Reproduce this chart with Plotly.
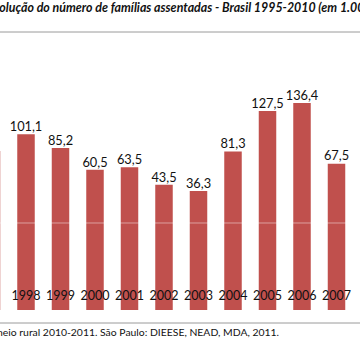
import plotly.graph_objects as go

# Data: families settled (thousands), Brazil
years = [1997, 1998, 1999, 2000, 2001, 2002, 2003, 2004, 2005, 2006, 2007, 2008]
values = [81.9, 101.1, 85.2, 60.5, 63.5, 43.5, 36.3, 81.3, 127.5, 136.4, 67.5, 70.2]
year_labels = [str(y) for y in years]
value_labels = [f"{v:.1f}".replace(".", ",") for v in values]

title_text = "Evolução do número de famílias assentadas - Brasil 1995-2010 (em 1.000 famílias)"
source_text = "Fonte: DIEESE. Estatísticas do meio rural 2010-2011. São Paulo: DIEESE, NEAD, MDA, 2011."

W, H = 360, 342
MB = 32
PH = H - MB
BAR_BASE = -99
Y_TOP = 253.7
BAR_COLOR = "#C0504D"
FONT = "Lato"
TXT = "#111111"

fig = go.Figure()
fig.add_trace(go.Bar(
    x=years, y=[v - BAR_BASE for v in values], base=BAR_BASE,
    width=0.507, marker=dict(color=BAR_COLOR, line=dict(width=0)),
    hoverinfo="skip",
))
# value labels above bars
fig.add_trace(go.Scatter(
    x=years, y=values, mode="text", text=value_labels,
    textposition="top center", cliponaxis=False,
    textfont=dict(family=FONT, size=12.8, color=TXT), hoverinfo="skip",
))
# year labels drawn inside bars near their bottom (invisible marker lifts the text)
fig.add_trace(go.Scatter(
    x=years, y=[BAR_BASE] * len(years), mode="markers+text", text=year_labels,
    marker=dict(size=10, color="rgba(0,0,0,0)"),
    textposition="top center", cliponaxis=False,
    textfont=dict(family=FONT, size=12.5, color=TXT), hoverinfo="skip",
))

fig.update_layout(
    width=W, height=H,
    margin=dict(l=0, r=0, t=0, b=MB),
    paper_bgcolor="white", plot_bgcolor="white",
    showlegend=False,
    xaxis=dict(
        range=[1998 - 26 / 34.5, 1998 + 334 / 34.5],
        showticklabels=False, ticks="",
        showgrid=False, zeroline=False, showline=False,
    ),
    yaxis=dict(range=[BAR_BASE, Y_TOP], visible=False, showgrid=False, zeroline=False),
    font=dict(family=FONT),
)

# faint line at zero level across bars
fig.add_shape(type="line", xref="paper", x0=0, x1=1, yref="y", y0=0, y1=0,
              line=dict(color="rgba(255,255,255,0.45)", width=1), layer="above")
# rules below title and above source
fig.add_shape(type="line", xref="paper", x0=0, x1=1, yref="paper",
              y0=1 - 32 / PH, y1=1 - 32 / PH, line=dict(color="#9a9a9a", width=1))
fig.add_shape(type="line", xref="paper", x0=0, x1=1, yref="paper",
              y0=-(323 - PH) / PH, y1=-(323 - PH) / PH, line=dict(color="#9a9a9a", width=1))

fig.add_annotation(text=f"<b><i>{title_text}</i></b>", xref="paper", yref="paper",
                   x=-15 / W, y=1 - 7 / PH, xanchor="left", yanchor="middle",
                   showarrow=False, font=dict(family=FONT, size=12.4, color=TXT))
fig.add_annotation(text=source_text, xref="paper", yref="paper",
                   x=281 / W, y=-(331.5 - PH) / PH, xanchor="right", yanchor="middle",
                   showarrow=False, font=dict(family=FONT, size=10.4, color=TXT))

fig.write_html("out.html")
